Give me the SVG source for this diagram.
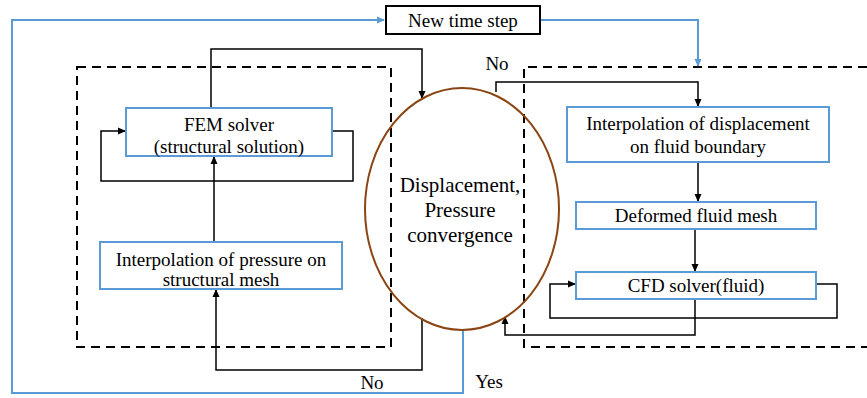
<svg xmlns="http://www.w3.org/2000/svg" width="867" height="398" viewBox="0 0 867 398">
<defs>
<marker id="ab" markerWidth="8" markerHeight="8" refX="7" refY="4" orient="auto" markerUnits="userSpaceOnUse"><path d="M0,0.5 L8,4 L0,7.5 Z" fill="#000"/></marker>
<marker id="abl" markerWidth="8" markerHeight="8" refX="7" refY="4" orient="auto" markerUnits="userSpaceOnUse"><path d="M0,0.5 L8,4 L0,7.5 Z" fill="#5B9BD5"/></marker>
</defs>
<style>
text{fill:#000;text-anchor:middle}
.t{font-size:19px}
.big{font-size:21px}
.box{fill:#fff;stroke:#5B9BD5;stroke-width:2}
.k{fill:none;stroke:#000;stroke-width:1.5}
.bl{fill:none;stroke:#5B9BD5;stroke-width:2}
.dash{fill:none;stroke:#000;stroke-width:2;stroke-dasharray:9,6}
</style>
<rect width="867" height="398" fill="#fff"/>
<g font-family="Liberation Serif, DejaVu Serif, serif">
<g id="dashed-regions">
<rect class="dash" x="77" y="67" width="314" height="280"/>
<path class="dash" d="M867,67 H524 V347 H867"/>
</g>
<g id="connectors">
<path class="bl" d="M463,330 V393 H12 V20 H384" marker-end="url(#abl)"/>
<path class="bl" d="M540,20 H698 V66" marker-end="url(#abl)"/>
<path class="k" d="M211,108 V49 H422 V98" marker-end="url(#ab)"/>
<path class="k" d="M332,131 H353 V181 H101 V131 H125" marker-end="url(#ab)"/>
<path class="k" d="M214,242 V157" marker-end="url(#ab)"/>
<path class="k" d="M422,318 V370 H216 V290" marker-end="url(#ab)"/>
<path class="k" d="M496,92 V82 H698 V106" marker-end="url(#ab)"/>
<path class="k" d="M698,162 V201" marker-end="url(#ab)"/>
<path class="k" d="M695,229 V271" marker-end="url(#ab)"/>
<path class="k" d="M816,284 H837 V318 H550 V284 H575" marker-end="url(#ab)"/>
<path class="k" d="M695,299 V335 H505 V317" marker-end="url(#ab)"/>
<text class="t" x="497" y="70">No</text>
<text class="t" x="372" y="389">No</text>
<text class="t" x="489" y="388">Yes</text>
</g>
<g id="new-time-step">
<rect x="386" y="6" width="154" height="28" fill="#fff" stroke="#000" stroke-width="2"/>
<text class="t" x="463" y="27">New time step</text>
</g>
<g id="convergence">
<ellipse cx="462" cy="209" rx="97" ry="121" fill="none" stroke="#8B4513" stroke-width="2"/>
<text class="big" x="460" y="192">Displacement,</text>
<text class="big" x="460" y="217">Pressure</text>
<text class="big" x="460" y="242">convergence</text>
</g>
<g id="fem-solver">
<rect class="box" x="126" y="108" width="206" height="48"/>
<text class="t" x="229" y="131">FEM solver</text>
<text class="t" x="229" y="153">(structural solution)</text>
</g>
<g id="interp-pressure">
<rect class="box" x="100" y="242" width="242" height="47"/>
<text class="t" x="221" y="266">Interpolation of pressure on</text>
<text class="t" x="221" y="286">structural mesh</text>
</g>
<g id="interp-displacement">
<rect class="box" x="567" y="107" width="262" height="55"/>
<text class="t" x="698" y="130">Interpolation of displacement</text>
<text class="t" x="698" y="153">on fluid boundary</text>
</g>
<g id="deformed-mesh">
<rect class="box" x="576" y="202" width="240" height="27"/>
<text class="t" x="696" y="222">Deformed fluid mesh</text>
</g>
<g id="cfd-solver">
<rect class="box" x="576" y="272" width="240" height="27"/>
<text class="t" x="696" y="292">CFD solver(fluid)</text>
</g>
</g>
</svg>
